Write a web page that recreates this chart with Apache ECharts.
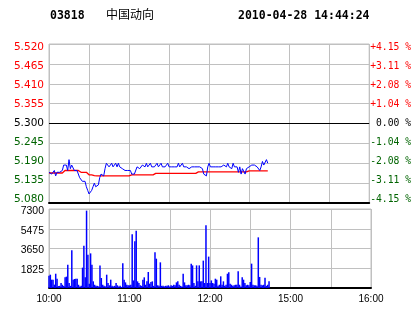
<!DOCTYPE html>
<html><head><meta charset="utf-8">
<script src="https://cdn.jsdelivr.net/npm/echarts@6/dist/echarts.min.js"></script>
<style>html,body{margin:0;padding:0;background:#fff}#c{width:414px;height:314px}</style>
</head><body><div id="c"></div>
<script>
// ---- data ----
const stockCode = '03818';
const stockName = '中国动向';
const stamp = '2010-04-28 14:44:24';
const prevClose = 5.300;
const priceTicks = [5.080, 5.135, 5.190, 5.245, 5.300, 5.355, 5.410, 5.465, 5.520];
const volTicks = [0, 1825, 3650, 5475, 7300];
const tickMinutes = [0, 60, 120, 180, 240];
const tickLabels = ['10:00', '11:00', '12:00', '15:00', '16:00'];
// price per trading minute (index = minutes since 10:00, lunch removed)
const price = [
5.165,5.17,5.16,5.155,5.17,5.155,5.165,5.16,5.165,5.165,
5.17,5.185,5.18,5.185,5.17,5.20,5.175,5.185,5.18,5.17,
5.175,5.17,5.165,5.15,5.145,5.14,5.135,5.14,5.125,5.115,
5.105,5.10,5.115,5.125,5.135,5.125,5.12,5.13,5.15,5.16,
5.165,5.155,5.175,5.19,5.185,5.18,5.18,5.19,5.18,5.185,
5.19,5.18,5.19,5.18,5.185,5.175,5.17,5.17,5.17,5.17,
5.17,5.17,5.16,5.165,5.16,5.16,5.18,5.18,5.175,5.18,
5.185,5.19,5.18,5.19,5.18,5.185,5.19,5.18,5.175,5.18,
5.18,5.19,5.18,5.18,5.19,5.18,5.18,5.18,5.185,5.19,
5.18,5.18,5.18,5.18,5.18,5.175,5.18,5.19,5.18,5.185,
5.19,5.18,5.18,5.18,5.18,5.175,5.17,5.18,5.18,5.18,
5.18,5.18,5.18,5.18,5.18,5.175,5.16,5.165,5.155,5.18,
5.19,5.18,5.18,5.18,5.18,5.18,5.185,5.18,5.18,5.18,
5.18,5.185,5.18,5.18,5.19,5.18,5.18,5.175,5.19,5.18,
5.18,5.18,5.165,5.18,5.16,5.175,5.17,5.16,5.175,5.18,
5.18,5.18,5.185,5.18,5.185,5.185,5.18,5.18,5.17,5.18,
5.195,5.185,5.19,5.20,5.19
];
const avgPrice = [
5.163,5.163,5.163,5.163,5.163,5.163,5.163,5.163,5.163,5.163,
5.163,5.167,5.170,5.170,5.170,5.170,5.170,5.170,5.170,5.170,
5.170,5.170,5.170,5.168,5.165,5.165,5.165,5.165,5.165,5.162,
5.158,5.158,5.158,5.158,5.156,5.155,5.155,5.155,5.155,5.155,
5.155,5.155,5.155,5.155,5.155,5.155,5.155,5.155,5.155,5.155,
5.155,5.155,5.155,5.155,5.155,5.155,5.155,5.155,5.155,5.155,
5.155,5.155,5.158,5.158,5.158,5.158,5.158,5.158,5.158,5.158,
5.158,5.158,5.158,5.158,5.158,5.158,5.158,5.158,5.158,5.158,
5.162,5.162,5.162,5.162,5.162,5.162,5.162,5.162,5.162,5.162,
5.162,5.162,5.162,5.162,5.162,5.162,5.162,5.162,5.162,5.162,
5.162,5.162,5.162,5.162,5.162,5.162,5.162,5.162,5.162,5.162,
5.162,5.166,5.166,5.166,5.166,5.166,5.166,5.166,5.166,5.166,
5.166,5.166,5.166,5.166,5.166,5.166,5.166,5.166,5.166,5.166,
5.166,5.166,5.166,5.166,5.166,5.166,5.166,5.166,5.166,5.166,
5.166,5.166,5.166,5.166,5.166,5.166,5.166,5.166,5.166,5.169,
5.169,5.169,5.169,5.169,5.169,5.169,5.169,5.169,5.169,5.169,
5.169,5.169,5.169,5.169,5.169
];
const volume = [
1140,1230,770,770,310,1320,860,180,200,460,
300,180,985,1050,2150,460,200,3480,770,830,
860,860,300,150,200,1880,3910,1000,7150,3080,
400,3200,2150,615,300,200,200,150,2090,925,
300,200,150,1230,460,250,770,200,150,200,
460,250,150,200,100,2280,770,520,300,250,
250,300,4960,700,4310,5300,615,460,250,200,
770,985,300,615,1480,400,550,615,200,3300,
2710,250,200,2370,200,200,150,200,200,250,
150,250,200,300,250,520,615,300,200,150,
1320,520,250,250,300,250,2250,2090,460,200,
2090,615,2090,615,615,2530,460,5790,460,2900,
460,700,460,400,860,770,200,300,1080,300,
615,200,300,1320,1450,400,300,200,250,300,
300,1540,300,150,985,770,460,250,300,250,
560,2250,300,250,250,200,4680,1020,300,250,
300,950,200,300,615
];

// ---- build ----
const step = priceTicks[1] - priceTicks[0];
const span = prevClose - priceTicks[0];
const pricePts = price.map((p, i) => [i, +(p - prevClose).toFixed(4)]);
const avgPts = avgPrice.map((p, i) => [i, +(p - prevClose).toFixed(4)]);
const volPts = volume.map((v, i) => [i, v]);
const RED = '#ff0000', GREEN = '#006400', GRID = '#c0c0c0';
function colorFor(v) { v = Math.round(v * 1000); return v > 0 ? RED : (v < 0 ? GREEN : '#000'); }
// label nudges: labels sit on a slightly tighter pitch than grid lines
function makeRich() {
  const r = {};
  for (let k = -4; k <= 4; k++) {
    const d = Math.round(k * 0.9 * 2);
    r['s' + (k + 4)] = d >= 0 ? { padding: [d, 0, 0, 0] } : { padding: [0, 0, -d, 0] };
  }
  return r;
}
function slot(v) { return 's' + (4 + Math.round(v / step)); }

const chart = echarts.init(document.getElementById('c'), null, { renderer: 'canvas' });
chart.setOption({
  animation: false,
  backgroundColor: '#fff',
  graphic: [
    { type: 'text', left: 50, top: 10, style: { text: stockCode, font: 'bold 11.5px "DejaVu Sans Mono"', fill: '#000' } },
    { type: 'text', left: 106, top: 8, style: { text: stockName, font: '12px "Noto Sans CJK SC"', fill: '#000' } },
    { type: 'text', left: 238, top: 10, style: { text: stamp, font: 'bold 11.5px "DejaVu Sans Mono"', fill: '#000' } }
  ],
  grid: [
    { left: 49, right: 42, top: 44, height: 159, show: true, borderColor: GRID, borderWidth: 1, containLabel: false },
    { left: 49, right: 43, top: 209, height: 79, show: true, borderColor: GRID, borderWidth: 1, containLabel: false }
  ],
  xAxis: [
    { type: 'value', gridIndex: 0, min: 0, max: 240, interval: 30,
      axisLine: { show: true, onZero: false, lineStyle: { color: '#000', width: 2 } },
      axisTick: { show: false }, axisLabel: { show: false },
      splitLine: { show: true, lineStyle: { color: GRID, width: 1 } } },
    { type: 'value', gridIndex: 1, min: 0, max: 240, interval: 30,
      axisLine: { show: true, onZero: false, lineStyle: { color: '#000', width: 2 } },
      axisTick: { show: false },
      axisLabel: { show: true, margin: 6, color: '#000', fontFamily: 'Liberation Sans', fontSize: 10,
        formatter: v => { const k = tickMinutes.indexOf(Math.round(v)); return k >= 0 ? tickLabels[k] : ''; } },
      splitLine: { show: true, lineStyle: { color: GRID, width: 1 } } }
  ],
  yAxis: [
    { type: 'value', gridIndex: 0, min: -span, max: span, interval: step,
      axisLine: { show: false }, axisTick: { show: false },
      axisLabel: { margin: 5, fontFamily: 'DejaVu Sans', fontSize: 10.5,
        color: v => colorFor(v),
        formatter: v => '{' + slot(v) + '|' + (prevClose + v).toFixed(3) + '}',
        rich: makeRich() },
      splitLine: { show: true, lineStyle: { color: GRID, width: 1 } } },
    { type: 'value', gridIndex: 0, position: 'right', min: -span, max: span, interval: step,
      axisLine: { show: false }, axisTick: { show: false },
      axisLabel: { margin: 1, fontFamily: 'DejaVu Sans Mono', fontSize: 9.7,
        color: v => colorFor(v),
        formatter: v => { const pct = v / prevClose * 100; const r = Math.round(v * 1000);
          const s = r > 0 ? '+' : (r < 0 ? '-' : ' ');
          return '{' + slot(v) + '|' + s + Math.abs(pct).toFixed(2) + ' %}'; },
        rich: makeRich() },
      splitLine: { show: false } },
    { type: 'value', gridIndex: 1, min: volTicks[0], max: volTicks[volTicks.length - 1], interval: volTicks[1] - volTicks[0],
      axisLine: { show: false }, axisTick: { show: false },
      axisLabel: { margin: 5, color: '#000', fontFamily: 'Liberation Sans', fontSize: 10.5,
        formatter: v => v === 0 ? '' : '{d|' + String(v) + '}',
        rich: { d: { padding: [4, 0, 0, 0] } } },
      splitLine: { show: true, lineStyle: { color: GRID, width: 1 } } }
  ],
  series: [
    { type: 'line', xAxisIndex: 0, yAxisIndex: 0, data: avgPts, showSymbol: false, symbol: 'none',
      lineStyle: { color: RED, width: 1.3 }, z: 3,
      markLine: { silent: true, symbol: 'none', label: { show: false }, lineStyle: { color: '#000', width: 1, type: 'solid' },
        data: [{ yAxis: 0 }] } },
    { type: 'line', xAxisIndex: 0, yAxisIndex: 0, data: pricePts, showSymbol: false, symbol: 'none',
      lineStyle: { color: '#0000ff', width: 1 }, z: 4 },
    { type: 'bar', xAxisIndex: 1, yAxisIndex: 2, data: volPts, barWidth: 1.5,
      itemStyle: { color: '#0000ff' } }
  ]
});
</script></body></html>
